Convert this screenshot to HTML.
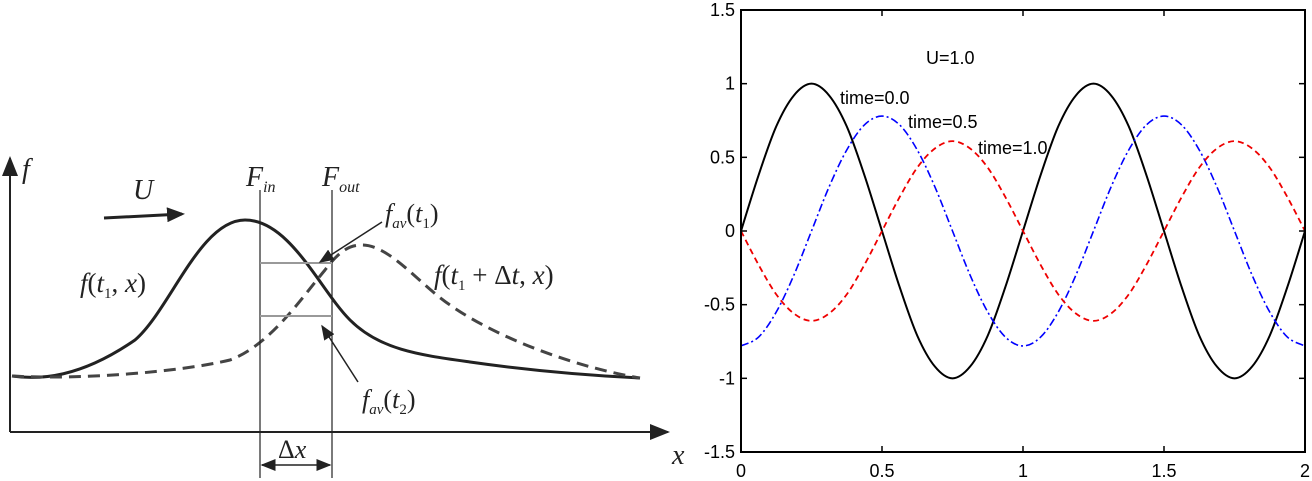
<!DOCTYPE html>
<html><head><meta charset="utf-8"><style>
body{margin:0;background:#fff;width:1312px;height:481px;overflow:hidden;font-family:"Liberation Sans",sans-serif}
svg{position:absolute;left:0;top:0}
</style></head><body>
<svg width="1312" height="481">
<defs><marker id="ah" markerWidth="10" markerHeight="8" refX="9" refY="4" orient="auto"><path d="M0,0L10,4L0,8z" fill="#222"/></marker>
<marker id="ah2" markerWidth="6" markerHeight="5" refX="5" refY="2.5" orient="auto"><path d="M0,0L6,2.5L0,5z" fill="#222"/></marker></defs>
<g font-family="Liberation Serif,serif" font-style="italic" fill="#222">
<line x1="10" y1="432" x2="10" y2="158" stroke="#222" stroke-width="2" marker-end="url(#ah)"/>
<line x1="10" y1="432" x2="668" y2="432" stroke="#222" stroke-width="2" marker-end="url(#ah)"/>
<text x="22" y="178" font-size="28">f</text>
<text x="672" y="464" font-size="28">x</text>
<text x="133" y="199" font-size="28">U</text>
<line x1="104" y1="218" x2="182" y2="214" stroke="#222" stroke-width="3" marker-end="url(#ah2)"/>
<path d="M12,376 C40,380 80,378 135,340 C170,310 200,220 245,220 C290,220 320,290 350,320 C380,350 420,355 470,362 C540,372 600,376 640,378" fill="none" stroke="#222" stroke-width="3"/>
<path d="M12,376 C80,380 180,372 230,360 C270,345 300,300 325,270 C340,250 350,245 362,245 C390,245 420,285 450,305 C500,340 580,368 640,378" fill="none" stroke="#444" stroke-width="3" stroke-dasharray="12,7"/>
<line x1="260" y1="190" x2="260" y2="478" stroke="#222" stroke-width="1.2"/>
<line x1="332" y1="190" x2="332" y2="478" stroke="#222" stroke-width="1.2"/>
<line x1="260" y1="263" x2="332" y2="263" stroke="#999" stroke-width="2"/>
<line x1="260" y1="316" x2="332" y2="316" stroke="#999" stroke-width="2"/>
<text x="246" y="186" font-size="28">F<tspan font-size="16" dy="6">in</tspan></text>
<text x="322" y="186" font-size="28">F<tspan font-size="16" dy="6">out</tspan></text>
<line x1="382" y1="222" x2="320" y2="262" stroke="#222" stroke-width="1.5" marker-end="url(#ah)"/>
<text x="385" y="222" font-size="26">f<tspan font-size="15" dy="6">av</tspan><tspan dy="-6" font-style="normal">(</tspan>t<tspan font-size="15" dy="6" font-style="normal">1</tspan><tspan dy="-6" font-style="normal">)</tspan></text>
<line x1="358" y1="382" x2="322" y2="326" stroke="#222" stroke-width="1.5" marker-end="url(#ah)"/>
<text x="362" y="408" font-size="26">f<tspan font-size="15" dy="6">av</tspan><tspan dy="-6" font-style="normal">(</tspan>t<tspan font-size="15" dy="6" font-style="normal">2</tspan><tspan dy="-6" font-style="normal">)</tspan></text>
<text x="80" y="292" font-size="27">f<tspan font-style="normal">(</tspan>t<tspan font-size="15" dy="6" font-style="normal">1</tspan><tspan dy="-6" font-style="normal">, </tspan>x<tspan font-style="normal">)</tspan></text>
<text x="434" y="284" font-size="27">f<tspan font-style="normal">(</tspan>t<tspan font-size="15" dy="6" font-style="normal">1</tspan><tspan dy="-6" font-style="normal"> + Δ</tspan>t<tspan font-style="normal">, </tspan>x<tspan font-style="normal">)</tspan></text>
<line x1="268" y1="465" x2="262" y2="465" stroke="#222" stroke-width="1.5" marker-end="url(#ah)"/>
<line x1="262" y1="465" x2="330" y2="465" stroke="#222" stroke-width="1.5" marker-end="url(#ah)"/>
<text x="278" y="458" font-size="26"><tspan font-style="normal">Δ</tspan>x</text>
</g>
<g id="chart"></g>
</svg>
<script>
const xTicks=[0,0.5,1,1.5,2];
const xTickLabels=["0","0.5","1","1.5","2"];
const yTicks=[1.5,1,0.5,0,-0.5,-1,-1.5];
const yTickLabels=["1.5","1","0.5","0","-0.5","-1","-1.5"];
const xs=[0,0.0625,0.125,0.1875,0.25,0.3125,0.375,0.4375,0.5,0.5625,0.625,0.6875,0.75,0.8125,0.875,0.9375,1,1.0625,1.125,1.1875,1.25,1.3125,1.375,1.4375,1.5,1.5625,1.625,1.6875,1.75,1.8125,1.875,1.9375,2];
const time00=[0,0.38,0.71,0.92,1,0.92,0.71,0.38,0,-0.38,-0.71,-0.92,-1,-0.92,-0.71,-0.38,0,0.38,0.71,0.92,1,0.92,0.71,0.38,0,-0.38,-0.71,-0.92,-1,-0.92,-0.71,-0.38,0];
const time05=[-0.78,-0.72,-0.55,-0.3,0,0.3,0.55,0.72,0.78,0.72,0.55,0.3,0,-0.3,-0.55,-0.72,-0.78,-0.72,-0.55,-0.3,0,0.3,0.55,0.72,0.78,0.72,0.55,0.3,0,-0.3,-0.55,-0.72,-0.78];
const time10=[0,-0.23,-0.43,-0.56,-0.61,-0.56,-0.43,-0.23,0,0.23,0.43,0.56,0.61,0.56,0.43,0.23,0,-0.23,-0.43,-0.56,-0.61,-0.56,-0.43,-0.23,0,0.23,0.43,0.56,0.61,0.56,0.43,0.23,0];
const L=741,R=1305,T=10,B=452;
const sx=v=>L+(v-0)/2*(R-L), sy=v=>T+(1.5-v)/3*(B-T);
const NS="http://www.w3.org/2000/svg", g=document.getElementById('chart');
function mk(t,a,p){const e=document.createElementNS(NS,t);for(const k in a)e.setAttribute(k,a[k]);(p||g).appendChild(e);return e;}
function path(ys){const P=xs.map((x,i)=>[sx(x),sy(ys[i])]);let d="M"+P[0];for(let i=0;i<P.length-1;i++){const p0=P[i-1]||P[i],p1=P[i],p2=P[i+1],p3=P[i+2]||p2;d+=" C"+(p1[0]+(p2[0]-p0[0])/6)+","+(p1[1]+(p2[1]-p0[1])/6)+" "+(p2[0]-(p3[0]-p1[0])/6)+","+(p2[1]-(p3[1]-p1[1])/6)+" "+p2;}return d;}
let e;
e=mk('path',{d:path(time00),fill:'none',stroke:'#000','stroke-width':2});

e=mk('path',{d:path(time05),fill:'none',stroke:'#00f','stroke-width':1.6,'stroke-dasharray':'8,3,2,3'});

e=mk('path',{d:path(time10),fill:'none',stroke:'#e00','stroke-width':1.8,'stroke-dasharray':'6,4'});

e=mk('rect',{x:L,y:T,width:R-L,height:B-T,fill:'none',stroke:'#000','stroke-width':2});

xTicks.forEach((v,i)=>{
  e=mk('line',{x1:sx(v),x2:sx(v),y1:B,y2:B-6,stroke:'#000','stroke-width':1.5});
  
  e=mk('line',{x1:sx(v),x2:sx(v),y1:T,y2:T+6,stroke:'#000','stroke-width':1.5});
  
  e=mk('text',{x:sx(v),y:B+25,'text-anchor':'middle','font-size':18});e.textContent=xTickLabels[i];
  
});
yTicks.forEach((v,i)=>{
  e=mk('line',{x1:L,x2:L+6,y1:sy(v),y2:sy(v),stroke:'#000','stroke-width':1.5});
  
  e=mk('line',{x1:R,x2:R-6,y1:sy(v),y2:sy(v),stroke:'#000','stroke-width':1.5});
  
  e=mk('text',{x:L-6,y:sy(v)+6,'text-anchor':'end','font-size':18});e.textContent=yTickLabels[i];
  
});
const notes=[["U=1.0",926,64],["time=0.0",840,104],["time=0.5",908,128],["time=1.0",978,154]];
notes.forEach(n=>{e=mk('text',{x:n[1],y:n[2],'font-size':18});e.textContent=n[0];
  });
</script>
</body></html>
